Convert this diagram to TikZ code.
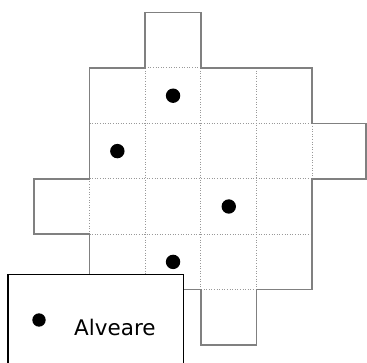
\documentclass[tikz,border=0pt]{standalone}
\usepackage{fontspec}
\newfontfamily\legendfont{DejaVu Sans}
\usepackage{tikz}

\begin{document}
\begin{tikzpicture}[
    x=1pt, y=-1pt,
    outline/.style={draw=black!50, line width=1.7pt, line join=miter},
    cellline/.style={draw=black!40, line width=1pt, dash pattern=on 1pt off 1.6pt},
    hive/.style={fill=black},
    legendbox/.style={draw=black, line width=1.3pt, fill=white}
  ]
  \useasboundingbox (0,0) rectangle (367,363);
  \clip (0,0) rectangle (367,363);

  % field of cells
  \begin{scope}[shift={(89.5,68)}, x=55.7pt, y=-55.4pt]
    \foreach \i in {1,2,3} {
      \draw[cellline] (\i,0) -- (\i,4);
      \draw[cellline] (0,\i) -- (4,\i);
    }
    \draw[cellline] (1,0) -- (2,0);
    \draw[cellline] (4,1) -- (4,2);
    \draw[cellline] (0,2) -- (0,3);
    \draw[cellline] (2,4) -- (3,4);
    \draw[outline] (0,0) -- (1,0) -- (1,-1) -- (2,-1) -- (2,0) -- (4,0)
      -- (4,1) -- (4.97,1) -- (4.97,2) -- (4,2) -- (4,4) -- (3,4) -- (3,5)
      -- (2,5) -- (2,4) -- (0,4) -- (0,3) -- (-1,3) -- (-1,2) -- (0,2) -- cycle;
    \foreach \c/\r in {1.5/0.5, 0.5/1.5, 2.5/2.5, 1.5/3.5}
      \fill[hive] (\c,\r) circle[radius=7.2pt];
  \end{scope}

  % legend
  \draw[legendbox] (8,274.3) rectangle (183.7,380);
  \fill[hive] (39,320) coordinate (mark) circle[radius=6.7pt];
  \node[anchor=base west, inner sep=0pt, font=\legendfont\fontsize{21.5}{26}\selectfont]
    (label) at (74,336) {Alveare};
\end{tikzpicture}
\end{document}
